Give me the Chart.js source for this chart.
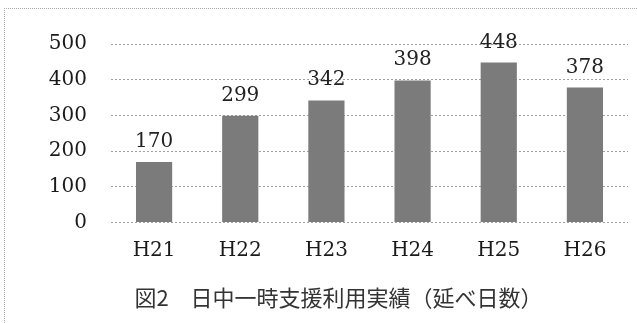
<!DOCTYPE html>
<html>
<head>
<meta charset="utf-8">
<script src="https://cdn.jsdelivr.net/npm/chart.js@4.4.1/dist/chart.umd.min.js"></script>
<style>
  html, body { margin: 0; padding: 0; background: #fff; }
  #wrap { position: relative; width: 637px; height: 323px; }
  #frame { position: absolute; left: 4px; top: 8px; right: 0; bottom: 0;
    border-top: 1px dotted #aaa; border-left: 1px dotted #aaa; pointer-events: none; }
  canvas { position: absolute; left: 0; top: 0; }
</style>
</head>
<body>
<div id="wrap">
  <canvas id="chart" width="637" height="323"></canvas>
  <div id="frame"></div>
</div>
<script>
// data
const years = ['H21', 'H22', 'H23', 'H24', 'H25', 'H26'];
const days = [170, 299, 342, 398, 448, 378];
const yTicks = [0, 100, 200, 300, 400, 500];
const caption = '図2　日中一時支援利用実績（延べ日数）';

const serif = '"DejaVu Serif", "Liberation Serif", serif';

// value above each bar
const barValues = {
  id: 'barValues',
  afterDatasetsDraw(chart) {
    const ctx = chart.ctx;
    const meta = chart.getDatasetMeta(0);
    ctx.save();
    ctx.font = '20px ' + serif;
    ctx.fillStyle = '#222';
    ctx.textAlign = 'center';
    ctx.textBaseline = 'alphabetic';
    meta.data.forEach((bar, i) => {
      ctx.fillText(String(days[i]), bar.x, bar.y - 15);
    });
    ctx.restore();
  }
};

new Chart(document.getElementById('chart'), {
  type: 'bar',
  data: {
    labels: years,
    datasets: [{ data: days, backgroundColor: '#7b7b7b', borderWidth: 0,
      categoryPercentage: 1, barPercentage: 0.42 }]
  },
  options: {
    responsive: false,
    animation: false,
    layout: { padding: { left: 49, right: 9, top: 44, bottom: 12 } },
    plugins: {
      legend: { display: false },
      tooltip: { enabled: false },
      title: {
        display: true, position: 'bottom', text: caption,
        color: '#333', font: { family: '"Noto Sans CJK JP"', size: 22, weight: 'normal' },
        padding: { top: 6, bottom: 0 }
      }
    },
    scales: {
      y: {
        min: 0, max: 500,
        afterBuildTicks: (axis) => { axis.ticks = yTicks.map(v => ({ value: v })); },
        afterFit: (axis) => { axis.width = 62; },
        grid: { color: '#a0a0a0', lineWidth: 1, drawTicks: false },
        border: { display: false, dash: [2, 2] },
        ticks: { color: '#1a1a1a', padding: 24, font: { family: serif, size: 20 } }
      },
      x: {
        grid: { display: false, drawTicks: false },
        border: { display: false },
        ticks: { color: '#1a1a1a', padding: 16, font: { family: serif, size: 20 } }
      }
    }
  },
  plugins: [barValues]
});
</script>
</body>
</html>
